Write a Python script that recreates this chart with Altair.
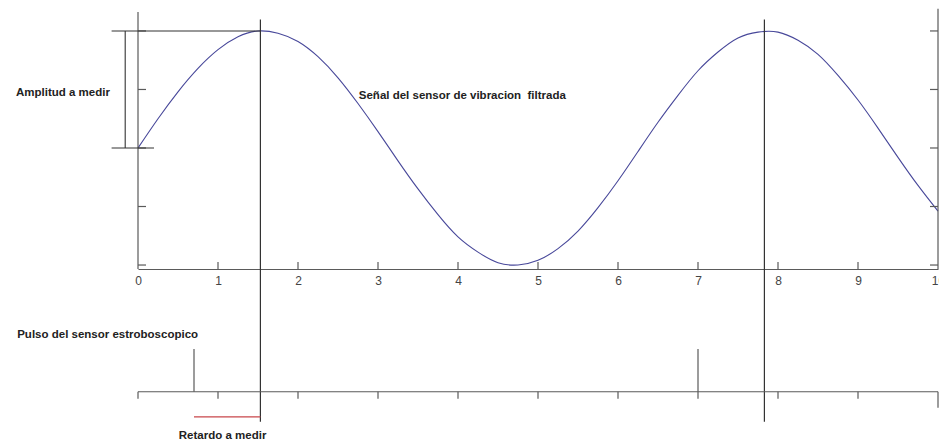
import altair as alt
import pandas as pd

# Filtered vibration-sensor signal, sampled every 0.25 time units
t_values = [0.0, 0.25, 0.5, 0.75, 1.0, 1.25, 1.5, 1.75, 2.0, 2.25, 2.5, 2.75,
            3.0, 3.25, 3.5, 3.75, 4.0, 4.25, 4.5, 4.75, 5.0, 5.25, 5.5, 5.75,
            6.0, 6.25, 6.5, 6.75, 7.0, 7.25, 7.5, 7.75, 8.0, 8.25, 8.5, 8.75,
            9.0, 9.25, 9.5, 9.75, 10.0]
signal_values = [0.00, 0.25, 0.48, 0.68, 0.84, 0.95, 1.00, 0.98, 0.91, 0.78, 0.60, 0.38,
                 0.14, -0.11, -0.35, -0.57, -0.76, -0.89, -0.98, -1.00, -0.96, -0.86, -0.71, -0.51,
                 -0.28, -0.03, 0.22, 0.45, 0.66, 0.82, 0.94, 0.99, 0.99, 0.92, 0.80, 0.62,
                 0.41, 0.17, -0.08, -0.32, -0.54]

# Axis ticks
x_ticks = [0, 1, 2, 3, 4, 5, 6, 7, 8, 9, 10]
y_ticks = [-1.0, -0.5, 0.0, 0.5, 1.0]

# Signal peaks and stroboscope pulses (time units)
peak_times = [1.53, 7.83]
pulse_times = [0.70, 7.00]

# Levels used by the annotations
signal_top = 1.162
signal_bottom = -1.034
amplitude_levels = [0.0, 1.0]
amplitude_bar_x = -0.16
amplitude_left = -0.33
zero_right = 0.2
strobe_level = -2.083
strobe_tick_end = -2.143
strobe_last_tick_end = -2.22
pulse_top = -1.718
peak_line_top = 1.098
peak_line_bottom = -2.339
delay_level = -2.297

W, H = 800, 257
xs = alt.Scale(domain=[0, 10], nice=False, zero=False)
ys = alt.Scale(domain=[signal_bottom, signal_top], nice=False, zero=False)

AXIS_GREY = "#5a5a5a"
LINE_DARK = "#333333"
FONT = "Liberation Sans"

x_axis = alt.Axis(
    orient="bottom", values=x_ticks, format="d", ticks=False, grid=False,
    domainColor=AXIS_GREY, domainWidth=1.2,
    labelFont=FONT, labelFontSize=12, labelColor="#444444",
    labelPadding=6, labelFlush=False,
)


def X(field):
    return alt.X(field, scale=xs, title=None, axis=x_axis)


def Y(field):
    return alt.Y(field, scale=ys, axis=None)


def segments(rows):
    return pd.DataFrame(rows, columns=["x", "x2", "y", "y2"])


def rules(df, color, width=1.0):
    return alt.Chart(df).mark_rule(color=color, strokeWidth=width).encode(
        x=X("x:Q"), x2="x2:Q", y=Y("y:Q"), y2="y2:Q",
    )


signal_df = pd.DataFrame({"t": t_values, "v": signal_values})

signal_line = alt.Chart(signal_df).mark_line(
    color="#48489a", strokeWidth=1.1, interpolate="natural"
).encode(x=X("t:Q"), y=Y("v:Q"))

# Left and right frame lines of the signal panel
frame = rules(segments([
    [0, 0, signal_bottom, signal_top],
    [10, 10, signal_bottom, 1.19],
]), AXIS_GREY, 1.2)

# Inward ticks
x_tick_df = pd.DataFrame({"t": x_ticks[1:-1]})
x_tick_rules = alt.Chart(x_tick_df).mark_rule(color=AXIS_GREY, strokeWidth=1.2).encode(
    x=X("t:Q"), y=alt.value(H), y2=alt.value(H - 7),
)
y_tick_df = pd.DataFrame({"v": y_ticks})
y_tick_left = alt.Chart(y_tick_df).mark_rule(color=AXIS_GREY, strokeWidth=1.2).encode(
    y=Y("v:Q"), x=alt.value(0), x2=alt.value(8),
)
y_tick_right = alt.Chart(y_tick_df).mark_rule(color=AXIS_GREY, strokeWidth=1.2).encode(
    y=Y("v:Q"), x=alt.value(W - 8), x2=alt.value(W),
)

# Amplitude measurement bracket
amplitude = rules(segments([
    [amplitude_left, peak_times[0], amplitude_levels[1], amplitude_levels[1]],
    [amplitude_left, zero_right, amplitude_levels[0], amplitude_levels[0]],
    [amplitude_bar_x, amplitude_bar_x, amplitude_levels[0], amplitude_levels[1]],
]), LINE_DARK, 1.1)

# Vertical markers through the signal peaks
peak_lines = rules(segments(
    [[p, p, peak_line_bottom, peak_line_top] for p in peak_times]
), LINE_DARK, 1.2)

# Stroboscope time line with downward ticks
strobe_axis = rules(segments(
    [[0, 10, strobe_level, strobe_level]]
    + [[t, t, strobe_level, strobe_tick_end] for t in x_ticks[:-1]]
    + [[10, 10, strobe_level, strobe_last_tick_end]]
), AXIS_GREY, 1.2)

# Stroboscope pulses
pulses = rules(segments(
    [[p, p, strobe_level, pulse_top] for p in pulse_times]
), AXIS_GREY, 1.2)

# Delay between pulse and peak
delay = rules(segments(
    [[pulse_times[0], peak_times[0], delay_level, delay_level]]
), "#c8464a", 1.2)

labels_df = pd.DataFrame({
    "x": [-1.525, 2.76, -1.51, 0.51],
    "y": [0.47, 0.447, -1.598, -2.46],
    "text": ["Amplitud a medir",
             "Señal del sensor de vibracion\u00a0 filtrada",
             "Pulso del sensor estroboscopico",
             "Retardo a medir"],
})
labels = alt.Chart(labels_df).mark_text(
    align="left", baseline="middle", font=FONT, fontSize=11.5,
    fontWeight="bold", color="#222222"
).encode(x=X("x:Q"), y=Y("y:Q"), text="text:N")

chart = alt.layer(
    signal_line, frame, x_tick_rules, y_tick_left, y_tick_right,
    amplitude, peak_lines, strobe_axis, pulses, delay, labels,
).properties(
    width=W, height=H,
    autosize=alt.AutoSizeParams(type="none"),
    padding={"left": 138, "top": 12, "right": 1, "bottom": 173},
).configure(
    background="white"
).configure_view(strokeWidth=0)

chart.save("out.html", embed_options={"renderer": "svg", "actions": False})
